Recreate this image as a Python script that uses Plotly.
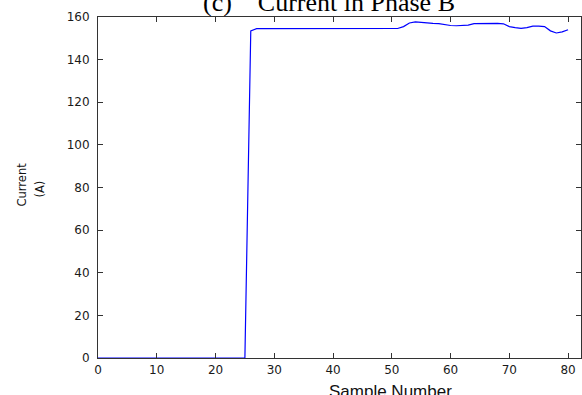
import plotly.graph_objects as go

sample = list(range(0, 81))
current = [
    0, 0, 0, 0, 0, 0, 0, 0, 0, 0,
    0, 0, 0, 0, 0, 0, 0, 0, 0, 0,
    0, 0, 0, 0, 0, 0, 153.5, 154.5, 154.5, 154.5,
    154.5, 154.5, 154.5, 154.5, 154.5, 154.5, 154.5, 154.5, 154.5, 154.5,
    154.5, 154.5, 154.5, 154.5, 154.5, 154.5, 154.5, 154.5, 154.5, 154.5,
    154.5, 154.6, 155.5, 157.2, 157.7, 157.4, 157.0, 157.0, 156.9, 156.3,
    156.0, 155.9, 155.9, 156.2, 156.9, 157.0, 157.0, 157.0, 157.0, 156.8,
    155.5, 155.0, 154.7, 155.0, 155.7, 155.7, 155.5, 153.5, 152.5, 153.0,
    154.0,
]
x_ticks = [0, 10, 20, 30, 40, 50, 60, 70, 80]
y_ticks = [0, 20, 40, 60, 80, 100, 120, 140, 160]

fig = go.Figure()
fig.add_trace(go.Scatter(x=sample, y=current, mode="lines",
                         line=dict(color="#0000ff", width=1.2), showlegend=False))

tick_font = dict(family="DejaVu Sans", size=12, color="#1a1a1a")
axis_common = dict(showline=True, linecolor="#333333", linewidth=1, mirror="allticks",
                   ticks="inside", ticklen=5, tickwidth=1, tickcolor="#333333",
                   showgrid=False, zeroline=False, tickfont=tick_font)

fig.update_xaxes(range=[0, 82.2], tickvals=x_ticks, ticktext=[str(v) for v in x_ticks],
                 ticklabelstandoff=1, **axis_common)
fig.update_yaxes(range=[0, 160], tickvals=y_ticks, ticktext=[str(v) for v in y_ticks],
                 ticklabelstandoff=5, **axis_common)

# y-axis label (two rotated lines)
label_font = dict(family="DejaVu Sans", size=11.5, color="#111111")
fig.add_annotation(text="Current", textangle=-90, xref="paper", yref="paper",
                   x=0, y=0.5, xanchor="center", yanchor="middle", xshift=-77, yshift=3,
                   showarrow=False, font=label_font)
fig.add_annotation(text="(A)", textangle=-90, xref="paper", yref="paper",
                   x=0, y=0.5, xanchor="center", yanchor="middle", xshift=-59, yshift=-2,
                   showarrow=False, font=label_font)
# x-axis label
fig.add_annotation(text="Sample Number", xref="paper", yref="paper",
                   x=0.6046, y=0, yanchor="top", yshift=-22, showarrow=False,
                   font=dict(family="Liberation Sans, Arial", size=17, color="#111111"))
# title
fig.add_annotation(text="(c)\u00a0\u00a0\u00a0\u00a0Current in Phase B", xref="paper", yref="paper",
                   x=0.478, y=1, yanchor="bottom", yshift=-2, showarrow=False,
                   font=dict(family="Liberation Serif, Times New Roman", size=26, color="#000000"))

fig.update_layout(width=582, height=395, margin=dict(l=98, r=1, t=17, b=37),
                  plot_bgcolor="white", paper_bgcolor="white")
fig.write_html("out.html")
